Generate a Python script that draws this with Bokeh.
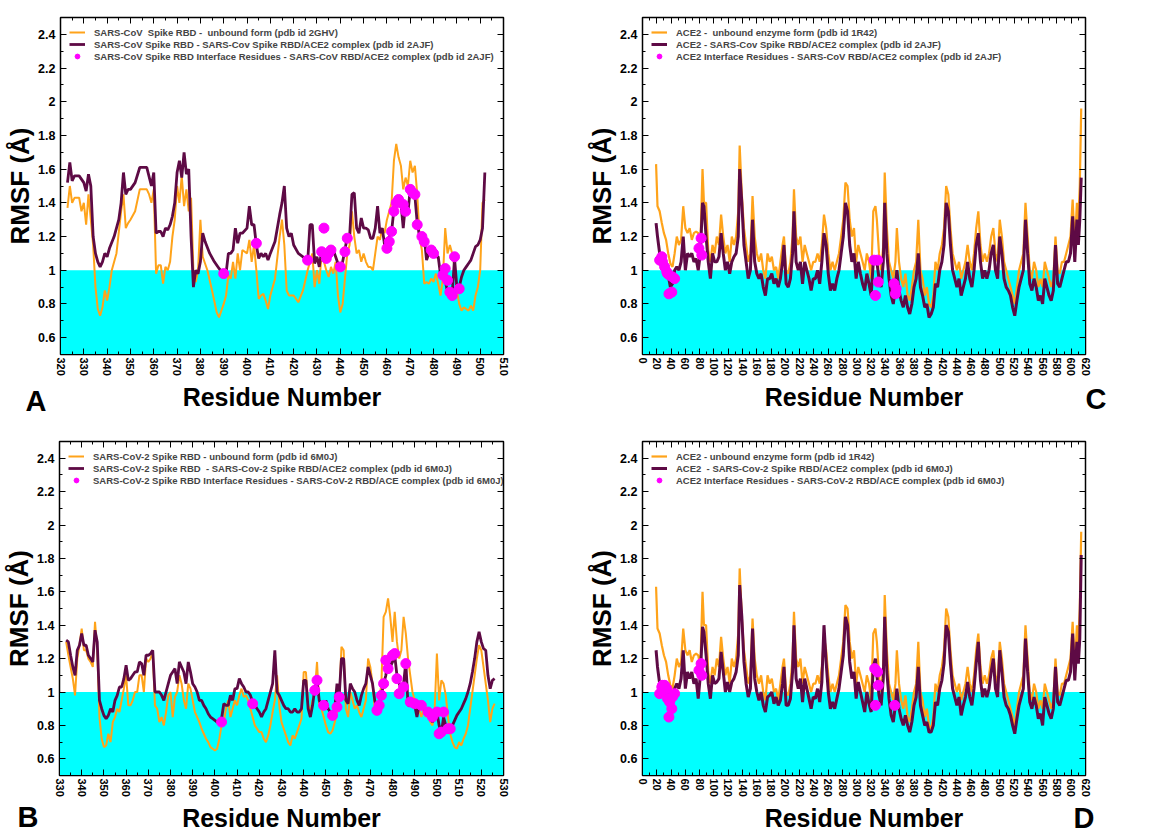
import math
from bokeh.plotting import figure
from bokeh.models import (FixedTicker, LinearAxis, Legend, LegendItem, Label,
                          CustomJSTickFormatter, Range1d)
from bokeh.layouts import column, row
from bokeh.embed import file_html
from bokeh.resources import INLINE

# ---------------- data (residue, RMSF in Angstrom) ----------------
# Panel A: SARS-CoV spike RBD
sars_rbd_unbound = [
    (323, 1.37), (324, 1.50), (325, 1.40), (326, 1.43), (328, 1.43), (329, 1.35), (330, 1.40),
    (331, 1.27), (332, 1.45), (333, 1.30), (334, 1.15), (335, 0.90), (336, 0.77), (337, 0.73),
    (338, 0.78), (339, 0.88), (340, 0.82), (341, 0.90), (342, 1.00), (344, 1.10), (346, 1.35),
    (347, 1.45), (348, 1.25), (349, 1.28), (350, 1.30), (352, 1.35), (354, 1.48), (357, 1.48),
    (358, 1.45), (359, 1.40), (360, 1.48), (361, 0.98), (362, 1.03), (363, 1.03), (364, 0.92),
    (365, 1.02), (366, 1.00), (367, 1.05), (368, 1.20), (369, 1.30), (370, 1.50), (371, 1.40),
    (372, 1.56), (373, 1.38), (374, 1.48), (375, 1.35), (376, 1.43), (377, 1.00), (378, 0.93),
    (379, 1.00), (380, 1.30), (381, 1.08), (383, 1.00), (385, 0.88), (387, 0.75), (388, 0.72),
    (389, 0.76), (390, 0.80), (391, 0.85), (392, 0.97), (393, 0.95), (394, 1.05), (395, 0.95),
    (396, 1.10), (397, 1.00), (398, 1.12), (400, 1.10), (401, 1.18), (402, 1.05), (403, 1.15),
    (404, 1.00), (405, 0.83), (406, 0.85), (407, 0.86), (408, 0.82), (409, 0.77), (410, 0.85),
    (412, 0.95), (414, 1.20), (415, 1.30), (416, 1.15), (417, 0.88), (418, 0.85), (420, 0.85),
    (422, 0.81), (424, 0.88), (426, 1.00), (427, 1.05), (428, 1.10), (429, 0.90), (430, 1.00),
    (431, 0.92), (432, 1.10), (433, 1.05), (434, 1.00), (435, 0.96), (436, 1.02), (437, 0.98),
    (438, 1.05), (439, 0.85), (440, 0.75), (441, 0.80), (442, 0.95), (443, 1.10), (444, 1.15),
    (445, 1.35), (446, 1.20), (447, 1.10), (448, 1.12), (449, 1.05), (450, 1.10), (451, 1.05),
    (452, 1.02), (453, 1.02), (454, 1.00), (455, 1.10), (456, 1.20), (457, 1.18), (458, 1.25),
    (459, 1.22), (460, 1.30), (461, 1.35), (462, 1.40), (463, 1.65), (464, 1.75), (465, 1.67),
    (466, 1.62), (467, 1.48), (468, 1.55), (469, 1.50), (470, 1.65), (471, 1.58), (472, 1.62),
    (473, 1.45), (474, 1.20), (475, 1.12), (476, 0.92), (477, 0.93), (478, 0.92), (479, 0.95),
    (480, 0.93), (481, 0.98), (482, 0.92), (483, 0.85), (484, 0.95), (485, 1.25), (486, 1.10),
    (487, 1.15), (488, 1.10), (489, 1.02), (490, 0.88), (491, 0.80), (492, 0.76), (493, 0.78),
    (494, 0.77), (495, 0.76), (496, 0.79), (497, 0.76), (498, 0.85), (499, 0.90), (500, 1.00),
    (501, 1.40), (502, 1.42),
]
sars_rbd_complex = [
    (323, 1.52), (324, 1.64), (325, 1.53), (326, 1.56), (328, 1.56), (330, 1.52), (331, 1.47),
    (332, 1.57), (333, 1.50), (334, 1.20), (335, 1.10), (336, 1.05), (337, 1.02), (338, 1.05),
    (339, 1.10), (340, 1.08), (341, 1.13), (343, 1.20), (345, 1.30), (346, 1.40), (347, 1.58),
    (348, 1.45), (349, 1.48), (350, 1.48), (352, 1.52), (354, 1.61), (357, 1.61), (359, 1.50),
    (360, 1.58), (361, 1.22), (362, 1.23), (363, 1.23), (364, 1.20), (365, 1.25), (366, 1.24),
    (367, 1.27), (368, 1.32), (369, 1.40), (370, 1.58), (371, 1.65), (372, 1.55), (373, 1.70),
    (374, 1.57), (375, 1.60), (376, 1.20), (377, 0.90), (378, 1.00), (379, 0.98), (380, 1.05),
    (381, 1.22), (382, 1.17), (384, 1.10), (386, 1.05), (388, 1.01), (390, 0.98), (391, 0.98),
    (392, 1.10), (393, 1.10), (394, 1.12), (395, 1.25), (396, 1.16), (397, 1.22), (398, 1.22),
    (400, 1.25), (401, 1.38), (402, 1.27), (403, 1.27), (404, 1.15), (405, 1.07), (406, 1.10),
    (407, 1.08), (408, 1.10), (409, 1.06), (410, 1.10), (412, 1.17), (414, 1.33), (415, 1.40),
    (416, 1.50), (417, 1.25), (418, 1.20), (419, 1.22), (420, 1.15), (422, 1.10), (424, 1.08),
    (425, 1.07), (426, 1.05), (427, 1.27), (428, 1.27), (429, 1.04), (430, 1.08), (431, 1.02),
    (432, 1.12), (433, 1.10), (434, 1.10), (435, 1.08), (436, 1.12), (437, 1.12), (438, 1.08),
    (439, 1.04), (440, 1.02), (441, 1.05), (442, 1.12), (443, 1.20), (444, 1.20), (445, 1.45),
    (446, 1.46), (447, 1.25), (448, 1.22), (449, 1.31), (450, 1.25), (451, 1.25), (452, 1.24),
    (453, 1.19), (454, 1.19), (455, 1.25), (456, 1.38), (457, 1.22), (458, 1.25), (459, 1.15),
    (460, 1.16), (461, 1.20), (462, 1.23), (463, 1.36), (464, 1.38), (465, 1.42), (466, 1.40),
    (467, 1.25), (468, 1.40), (469, 1.34), (470, 1.48), (471, 1.44), (472, 1.44), (473, 1.28),
    (474, 1.20), (475, 1.18), (476, 1.20), (477, 1.06), (478, 1.10), (479, 1.12), (480, 1.10),
    (481, 1.08), (482, 1.08), (483, 0.97), (484, 1.00), (485, 0.94), (486, 0.87), (487, 0.87),
    (488, 0.86), (489, 1.07), (490, 0.90), (491, 0.90), (492, 0.96), (493, 1.00), (494, 1.02),
    (495, 1.04), (496, 1.06), (497, 1.10), (498, 1.14), (499, 1.15), (500, 1.18), (501, 1.25),
    (502, 1.58),
]
sars_rbd_interface = [
    (390, 0.98), (404, 1.16), (426, 1.06), (432, 1.11), (433, 1.25), (434, 1.07), (435, 1.10),
    (436, 1.12), (440, 1.02), (442, 1.11), (443, 1.19), (460, 1.13), (461, 1.17), (462, 1.23),
    (463, 1.35), (464, 1.40), (465, 1.42), (467, 1.39), (468, 1.35), (470, 1.48), (471, 1.46),
    (472, 1.45), (473, 1.27), (475, 1.20), (476, 1.17), (479, 1.12), (480, 1.10), (484, 0.97),
    (485, 1.01), (486, 0.94), (487, 0.87), (488, 0.85), (489, 1.08), (491, 0.89),
]

# Panel B: SARS-CoV-2 spike RBD
cov2_rbd_unbound = [
    (333, 1.30), (334, 1.22), (335, 1.15), (336, 1.08), (337, 0.98), (338, 1.20), (339, 1.28),
    (340, 1.38), (341, 1.25), (342, 1.25), (343, 1.20), (344, 1.18), (345, 1.15), (346, 1.42),
    (347, 1.25), (348, 0.85), (349, 0.72), (350, 0.67), (351, 0.68), (352, 0.75), (353, 0.70),
    (354, 0.82), (355, 0.85), (356, 0.90), (357, 0.88), (358, 0.95), (359, 1.02), (360, 1.10),
    (361, 0.92), (362, 0.92), (363, 0.95), (364, 1.00), (365, 1.00), (366, 1.10), (367, 1.10),
    (368, 1.00), (369, 1.20), (370, 1.18), (371, 1.20), (372, 1.24), (373, 0.92), (374, 0.90),
    (375, 0.82), (376, 0.85), (377, 0.80), (378, 0.88), (379, 0.98), (380, 1.00), (381, 0.85),
    (382, 0.97), (383, 1.00), (384, 1.10), (385, 1.05), (386, 0.95), (387, 0.90), (388, 1.05),
    (389, 1.02), (390, 0.95), (391, 0.88), (392, 0.85), (393, 0.82), (394, 0.78), (395, 0.75),
    (396, 0.72), (397, 0.70), (398, 0.67), (399, 0.66), (400, 0.65), (401, 0.66), (402, 0.72),
    (403, 0.80), (404, 0.82), (405, 0.90), (406, 0.95), (407, 0.85), (408, 0.90), (409, 0.95),
    (410, 0.92), (411, 0.98), (412, 1.02), (413, 0.97), (414, 0.98), (415, 0.95), (416, 0.90),
    (417, 0.85), (418, 0.80), (419, 0.78), (420, 0.76), (421, 0.76), (422, 0.72), (423, 0.70),
    (424, 0.74), (425, 0.80), (426, 0.88), (427, 0.95), (428, 1.10), (429, 0.92), (430, 0.82),
    (431, 0.78), (432, 0.74), (433, 0.70), (434, 0.68), (435, 0.74), (436, 0.72), (437, 0.76),
    (438, 0.80), (439, 0.84), (440, 1.12), (441, 1.12), (442, 0.92), (443, 0.88), (444, 0.95),
    (445, 1.00), (446, 1.18), (447, 0.92), (448, 0.90), (449, 0.85), (450, 0.80), (451, 0.76),
    (452, 0.75), (453, 0.77), (454, 0.82), (455, 0.88), (456, 0.95), (457, 1.27), (458, 1.25),
    (459, 0.90), (460, 0.85), (461, 1.00), (462, 0.95), (463, 0.90), (464, 0.92), (465, 0.88),
    (466, 0.85), (467, 0.90), (468, 0.95), (469, 1.20), (470, 1.15), (471, 1.05), (472, 0.90),
    (473, 0.88), (474, 0.95), (475, 1.05), (476, 1.45), (477, 1.48), (478, 1.56), (479, 1.45),
    (480, 1.30), (481, 1.48), (482, 1.30), (483, 1.20), (484, 1.25), (485, 1.45), (486, 1.35),
    (487, 1.20), (488, 1.10), (489, 1.00), (490, 0.95), (491, 0.88), (492, 0.90), (493, 0.85),
    (494, 0.90), (495, 0.85), (496, 0.88), (497, 0.82), (498, 0.80), (499, 0.90), (500, 1.23),
    (501, 0.95), (502, 1.07), (503, 1.05), (504, 0.98), (505, 0.85), (506, 0.75), (507, 0.70),
    (508, 0.67), (509, 0.66), (510, 0.70), (511, 0.68), (512, 0.72), (513, 0.75), (514, 0.80),
    (515, 0.90), (516, 1.00), (517, 1.10), (518, 1.20), (519, 1.28), (520, 1.25), (521, 1.15),
    (522, 1.05), (523, 0.95), (524, 0.82), (525, 0.90), (526, 0.93),
]
cov2_rbd_complex = [
    (333, 1.31), (334, 1.30), (335, 1.22), (336, 1.15), (337, 1.10), (338, 1.25), (339, 1.28),
    (340, 1.35), (341, 1.28), (342, 1.28), (343, 1.22), (344, 1.20), (345, 1.18), (346, 1.37),
    (347, 1.30), (348, 0.95), (349, 0.90), (350, 0.86), (351, 0.84), (352, 0.86), (353, 0.90),
    (354, 0.88), (355, 0.95), (356, 0.98), (357, 1.03), (358, 1.03), (359, 1.08), (360, 1.16),
    (361, 1.07), (362, 1.08), (363, 1.10), (364, 1.12), (365, 1.12), (366, 1.18), (367, 1.17),
    (368, 1.10), (369, 1.22), (370, 1.22), (371, 1.23), (372, 1.25), (373, 1.00), (374, 1.00),
    (375, 1.00), (376, 0.98), (377, 0.95), (378, 1.00), (379, 1.05), (380, 1.10), (381, 1.12),
    (382, 1.14), (383, 1.05), (384, 1.18), (385, 1.15), (386, 1.12), (387, 1.05), (388, 1.18),
    (389, 1.12), (390, 1.05), (391, 1.03), (392, 1.00), (393, 0.95), (394, 0.95), (395, 0.92),
    (396, 0.90), (397, 0.87), (398, 0.85), (399, 0.84), (400, 0.83), (401, 0.82), (402, 0.82),
    (403, 0.84), (404, 0.93), (405, 0.92), (406, 0.92), (407, 0.98), (408, 0.95), (409, 1.02),
    (410, 1.02), (411, 1.08), (412, 1.05), (413, 1.03), (414, 1.00), (415, 1.00), (416, 0.98),
    (417, 0.94), (418, 0.92), (419, 0.90), (420, 0.88), (421, 0.85), (422, 0.88), (423, 0.90),
    (424, 0.95), (425, 1.00), (426, 1.05), (427, 1.25), (428, 1.00), (429, 0.98), (430, 0.95),
    (431, 0.92), (432, 0.90), (433, 0.90), (434, 0.88), (435, 0.88), (436, 0.90), (437, 0.88),
    (438, 0.88), (439, 0.90), (440, 1.07), (441, 1.07), (442, 0.90), (443, 0.85), (444, 0.92),
    (445, 1.02), (446, 1.07), (447, 0.95), (448, 0.92), (449, 0.90), (450, 0.95), (451, 0.90),
    (452, 0.88), (453, 0.86), (454, 0.90), (455, 1.05), (456, 0.98), (457, 1.20), (458, 1.20),
    (459, 0.95), (460, 0.93), (461, 1.05), (462, 1.02), (463, 1.00), (464, 0.95), (465, 0.92),
    (466, 0.98), (467, 1.02), (468, 1.05), (469, 1.15), (470, 1.10), (471, 1.05), (472, 0.95),
    (473, 0.90), (474, 0.93), (475, 0.98), (476, 1.05), (477, 1.10), (478, 1.20), (479, 1.15),
    (480, 1.18), (481, 1.22), (482, 1.10), (483, 1.05), (484, 1.02), (485, 1.05), (486, 1.18),
    (487, 0.92), (488, 0.92), (489, 0.94), (490, 0.92), (491, 0.85), (492, 0.92), (493, 0.92),
    (494, 0.90), (495, 0.88), (496, 0.88), (497, 0.85), (498, 0.82), (499, 0.85), (500, 0.88),
    (501, 0.80), (502, 0.75), (503, 0.85), (504, 0.80), (505, 0.78), (506, 0.77), (507, 0.80),
    (508, 0.83), (509, 0.86), (510, 0.88), (511, 0.90), (512, 0.93), (513, 0.96), (514, 1.00),
    (515, 1.05), (516, 1.12), (517, 1.20), (518, 1.30), (519, 1.36), (520, 1.30), (521, 1.26),
    (522, 1.25), (523, 1.10), (524, 1.02), (525, 1.07), (526, 1.08),
]
cov2_rbd_interface = [
    (403, 0.82), (417, 0.93), (445, 1.01), (446, 1.07), (449, 0.92), (453, 0.86), (455, 0.91),
    (456, 0.97), (473, 0.89), (474, 0.92), (475, 0.98), (476, 1.05), (477, 1.19), (478, 1.14),
    (480, 1.22), (481, 1.23), (482, 1.08), (483, 0.99), (485, 1.03), (486, 1.17), (488, 0.94),
    (490, 0.93), (493, 0.92), (496, 0.88), (498, 0.85), (500, 0.88), (501, 0.75), (502, 0.76),
    (503, 0.88), (505, 0.78), (506, 0.78),
]

# Panels C and D: ACE2
ace2_unbound = [
    (19, 1.63), (21, 1.38), (24, 1.35), (27, 1.28), (30, 1.22), (33, 1.18), (36, 1.10), (39, 1.04),
    (42, 1.02), (45, 1.10), (48, 1.20), (51, 1.15), (54, 1.18), (57, 1.38), (60, 1.25), (63, 1.22),
    (66, 1.25), (69, 1.18), (72, 1.22), (75, 1.23), (78, 1.22), (81, 1.15), (84, 1.60), (86, 1.40),
    (89, 1.40), (92, 1.12), (95, 1.05), (98, 1.15), (101, 1.10), (104, 1.20), (107, 1.15),
    (110, 1.33), (113, 1.20), (116, 1.10), (119, 1.15), (122, 1.05), (125, 1.20), (128, 1.15),
    (131, 1.20), (134, 1.35), (136, 1.74), (139, 1.45), (142, 1.25), (145, 1.15), (148, 1.05),
    (151, 1.10), (154, 1.44), (157, 1.20), (160, 1.10), (163, 1.05), (166, 1.10), (169, 1.00),
    (172, 0.95), (175, 1.10), (178, 1.05), (181, 1.08), (184, 1.00), (187, 1.02), (190, 0.95),
    (193, 1.05), (196, 1.15), (198, 1.20), (201, 1.00), (204, 0.98), (207, 1.05), (210, 1.20),
    (212, 1.48), (215, 1.20), (218, 1.15), (221, 1.20), (224, 1.05), (227, 1.15), (230, 1.10),
    (233, 1.05), (236, 1.00), (239, 1.05), (242, 1.05), (245, 1.10), (248, 1.05), (251, 1.15),
    (254, 1.33), (257, 1.25), (260, 1.10), (263, 1.00), (266, 1.05), (269, 1.00), (272, 1.05),
    (275, 1.10), (278, 1.20), (281, 1.30), (284, 1.52), (287, 1.50), (290, 1.30), (293, 1.20),
    (296, 1.25), (299, 1.05), (302, 1.15), (305, 1.10), (308, 1.05), (311, 1.00), (314, 1.10),
    (317, 1.05), (320, 0.95), (323, 1.35), (326, 1.38), (328, 1.30), (331, 1.10), (334, 1.00),
    (337, 1.15), (339, 1.58), (342, 1.25), (345, 1.05), (348, 1.00), (351, 0.95), (354, 1.05),
    (356, 1.25), (359, 1.05), (362, 0.95), (365, 0.90), (368, 0.98), (371, 0.85), (374, 0.82),
    (377, 0.90), (380, 1.00), (383, 1.05), (386, 1.30), (389, 1.00), (392, 0.95), (395, 0.85),
    (398, 0.90), (401, 0.80), (404, 0.78), (407, 0.85), (410, 1.05), (413, 1.00), (416, 1.10),
    (419, 1.15), (422, 1.25), (425, 1.50), (428, 1.45), (431, 1.25), (434, 1.10), (437, 1.05),
    (440, 1.00), (443, 1.05), (446, 0.95), (449, 1.00), (452, 1.05), (455, 1.15), (458, 1.05),
    (461, 1.00), (464, 1.10), (467, 1.25), (470, 1.35), (473, 1.15), (476, 1.05), (479, 1.10),
    (482, 1.05), (485, 1.10), (488, 1.20), (491, 1.25), (494, 1.10), (497, 1.05), (500, 1.30),
    (503, 1.20), (506, 1.05), (509, 1.00), (512, 0.95), (515, 0.90), (518, 0.85), (521, 0.80),
    (524, 0.90), (527, 1.00), (530, 1.05), (533, 1.10), (536, 1.40), (539, 1.20), (542, 1.00),
    (545, 0.95), (548, 1.05), (551, 1.00), (554, 0.90), (557, 0.95), (560, 0.90), (563, 1.05),
    (566, 1.00), (569, 0.95), (572, 0.90), (575, 0.95), (578, 1.20), (581, 1.00), (584, 0.98),
    (587, 1.05), (590, 1.05), (593, 1.10), (596, 1.15), (599, 1.20), (602, 1.42), (605, 1.15),
    (608, 1.40), (610, 1.30), (612, 1.50), (614, 1.96),
]
ace2_sars_complex = [
    (19, 1.28), (21, 1.20), (24, 1.10), (27, 1.05), (30, 1.02), (33, 1.00), (36, 0.97), (39, 0.90),
    (42, 0.92), (45, 1.00), (48, 1.02), (51, 1.00), (54, 1.05), (57, 1.20), (60, 1.00), (63, 1.10),
    (66, 1.08), (69, 1.10), (72, 1.05), (75, 1.07), (78, 1.00), (81, 1.10), (84, 1.40), (86, 1.38),
    (89, 1.20), (92, 1.05), (95, 0.95), (98, 1.10), (101, 1.05), (104, 1.05), (107, 1.08),
    (110, 1.22), (113, 1.10), (116, 1.00), (119, 1.05), (122, 0.98), (125, 1.05), (128, 1.08),
    (131, 1.10), (134, 1.20), (136, 1.60), (139, 1.40), (142, 1.15), (145, 1.05), (148, 0.95),
    (151, 1.00), (154, 1.30), (157, 1.05), (160, 0.98), (163, 0.95), (166, 0.98), (169, 0.90),
    (172, 0.85), (175, 0.95), (178, 0.95), (181, 0.98), (184, 0.92), (187, 0.95), (190, 0.90),
    (193, 0.95), (196, 1.05), (198, 1.15), (201, 0.92), (204, 0.90), (207, 0.95), (210, 1.10),
    (212, 1.35), (215, 1.05), (218, 1.00), (221, 1.05), (224, 0.92), (227, 1.05), (230, 1.00),
    (233, 0.95), (236, 0.88), (239, 0.95), (242, 0.95), (245, 1.00), (248, 0.92), (251, 1.05),
    (254, 1.22), (257, 1.15), (260, 0.98), (263, 0.88), (266, 0.92), (269, 0.88), (272, 0.95),
    (275, 1.00), (278, 1.10), (281, 1.20), (284, 1.40), (287, 1.35), (290, 1.15), (293, 1.05),
    (296, 1.10), (299, 0.95), (302, 1.05), (305, 0.98), (308, 0.92), (311, 0.88), (314, 0.98),
    (317, 0.92), (320, 0.85), (323, 1.05), (326, 1.08), (328, 1.05), (331, 0.95), (334, 0.90),
    (337, 1.05), (339, 1.40), (342, 1.10), (345, 0.95), (348, 0.85), (351, 0.80), (354, 0.90),
    (356, 1.00), (359, 0.88), (362, 0.82), (365, 0.78), (368, 0.85), (371, 0.78), (374, 0.74),
    (377, 0.80), (380, 0.90), (383, 0.95), (386, 1.10), (389, 0.90), (392, 0.85), (395, 0.78),
    (398, 0.80), (401, 0.72), (404, 0.74), (407, 0.78), (410, 0.92), (413, 0.90), (416, 1.00),
    (419, 1.05), (422, 1.15), (425, 1.40), (428, 1.35), (431, 1.15), (434, 1.00), (437, 0.95),
    (440, 0.90), (443, 0.95), (446, 0.85), (449, 0.90), (452, 0.95), (455, 1.05), (458, 0.95),
    (461, 0.90), (464, 1.00), (467, 1.15), (470, 1.22), (473, 1.05), (476, 0.95), (479, 1.00),
    (482, 0.95), (485, 1.00), (488, 1.10), (491, 1.15), (494, 1.00), (497, 0.95), (500, 1.20),
    (503, 1.10), (506, 0.95), (509, 0.90), (512, 0.88), (515, 0.85), (518, 0.78), (521, 0.73),
    (524, 0.82), (527, 0.90), (530, 0.95), (533, 1.00), (536, 1.30), (539, 1.10), (542, 0.92),
    (545, 0.88), (548, 0.95), (551, 0.90), (554, 0.82), (557, 0.85), (560, 0.80), (563, 0.95),
    (566, 0.90), (569, 0.85), (572, 0.82), (575, 0.88), (578, 1.15), (581, 0.92), (584, 0.90),
    (587, 0.95), (590, 1.00), (593, 1.05), (596, 1.05), (599, 1.10), (602, 1.32), (605, 1.05),
    (608, 1.30), (610, 1.15), (612, 1.30), (614, 1.55),
]
ace2_sars_interface = [
    (24, 1.06), (27, 1.08), (28, 1.05), (31, 1.02), (34, 0.99), (35, 0.98), (37, 0.86),
    (38, 0.97), (41, 0.87), (42, 0.96), (45, 0.95), (79, 1.13), (82, 1.19), (83, 1.09),
    (324, 1.06), (326, 0.85), (329, 1.06), (330, 0.93), (352, 0.92), (354, 0.86), (355, 0.89),
]
ace2_cov2_complex = [
    (19, 1.25), (21, 1.15), (24, 1.05), (27, 1.02), (30, 1.03), (33, 1.00), (36, 0.96), (39, 0.90),
    (42, 0.95), (45, 1.02), (48, 1.05), (51, 1.02), (54, 1.08), (57, 1.25), (60, 1.02), (63, 1.12),
    (66, 1.08), (69, 1.12), (72, 1.05), (75, 1.08), (78, 0.96), (81, 1.10), (84, 1.39), (86, 1.36),
    (89, 1.22), (92, 1.05), (95, 0.96), (98, 1.10), (101, 1.05), (104, 1.06), (107, 1.08),
    (110, 1.24), (113, 1.12), (116, 1.00), (119, 1.06), (122, 1.00), (125, 1.06), (128, 1.08),
    (131, 1.12), (134, 1.22), (136, 1.64), (139, 1.45), (142, 1.18), (145, 1.05), (148, 0.97),
    (151, 1.02), (154, 1.38), (157, 1.08), (160, 1.00), (163, 0.95), (166, 1.00), (169, 0.92),
    (172, 0.88), (175, 0.97), (178, 0.98), (181, 1.00), (184, 0.93), (187, 0.97), (190, 0.92),
    (193, 0.95), (196, 1.05), (198, 1.15), (201, 0.92), (204, 0.92), (207, 0.96), (210, 1.12),
    (212, 1.40), (215, 1.08), (218, 1.02), (221, 1.08), (224, 0.94), (227, 1.08), (230, 1.02),
    (233, 0.96), (236, 0.90), (239, 0.97), (242, 0.96), (245, 1.02), (248, 0.94), (251, 1.06),
    (254, 1.40), (257, 1.18), (260, 1.00), (263, 0.90), (266, 0.94), (269, 0.90), (272, 0.96),
    (275, 1.02), (278, 1.12), (281, 1.22), (284, 1.45), (287, 1.40), (290, 1.18), (293, 1.08),
    (296, 1.12), (299, 0.96), (302, 1.06), (305, 1.00), (308, 0.94), (311, 0.88), (314, 1.00),
    (317, 0.93), (320, 0.88), (323, 1.15), (326, 1.20), (328, 1.10), (331, 0.98), (334, 0.92),
    (337, 1.08), (339, 1.45), (342, 1.12), (345, 0.96), (348, 0.86), (351, 0.82), (354, 0.92),
    (356, 1.02), (359, 0.90), (362, 0.84), (365, 0.80), (368, 0.86), (371, 0.80), (374, 0.76),
    (377, 0.82), (380, 0.92), (383, 0.97), (386, 1.15), (389, 0.92), (392, 0.86), (395, 0.80),
    (398, 0.82), (401, 0.76), (404, 0.76), (407, 0.80), (410, 0.94), (413, 0.92), (416, 1.02),
    (419, 1.07), (422, 1.17), (425, 1.40), (428, 1.36), (431, 1.17), (434, 1.02), (437, 0.97),
    (440, 0.92), (443, 0.97), (446, 0.86), (449, 0.92), (452, 0.97), (455, 1.06), (458, 0.97),
    (461, 0.92), (464, 1.02), (467, 1.17), (470, 1.30), (473, 1.07), (476, 0.97), (479, 1.02),
    (482, 0.97), (485, 1.02), (488, 1.12), (491, 1.20), (494, 1.02), (497, 0.97), (500, 1.25),
    (503, 1.12), (506, 0.97), (509, 0.92), (512, 0.90), (515, 0.86), (518, 0.80), (521, 0.75),
    (524, 0.84), (527, 0.92), (530, 0.97), (533, 1.02), (536, 1.32), (539, 1.12), (542, 0.94),
    (545, 0.90), (548, 0.97), (551, 0.92), (554, 0.84), (557, 0.87), (560, 0.80), (563, 0.97),
    (566, 0.92), (569, 0.87), (572, 0.84), (575, 0.90), (578, 1.15), (581, 0.94), (584, 0.92),
    (587, 0.97), (590, 1.02), (593, 1.07), (596, 1.07), (599, 1.12), (602, 1.35), (605, 1.07),
    (608, 1.30), (610, 1.17), (612, 1.32), (614, 1.82),
]
ace2_cov2_interface = [
    (24, 0.99), (27, 1.03), (28, 1.04), (30, 1.01), (31, 1.04), (34, 1.02), (35, 0.96),
    (37, 0.85), (38, 0.94), (41, 0.90), (42, 0.97), (45, 0.99), (79, 1.13), (82, 1.17),
    (83, 1.10), (325, 1.14), (326, 0.92), (329, 1.12), (330, 1.04), (353, 0.92),
]

# axes / ticks
y_range = (0.5, 2.5)
y_major = [0.6, 0.8, 1.0, 1.2, 1.4, 1.6, 1.8, 2.0, 2.2, 2.4]
y_minor = [0.5, 0.7, 0.9, 1.1, 1.3, 1.5, 1.7, 1.9, 2.1, 2.3, 2.5]
threshold = 1.0
rbd_a_range = (320, 510)
rbd_b_range = (330, 530)
ace2_range = (0, 620)
rbd_a_major = list(range(320, 511, 10))
rbd_a_minor = list(range(325, 511, 10))
rbd_b_major = list(range(330, 531, 10))
rbd_b_minor = list(range(335, 531, 10))
ace2_major = list(range(0, 621, 20))
ace2_minor = list(range(10, 621, 20))

legend_a = ["SARS-CoV  Spike RBD -  unbound form (pdb id 2GHV)",
            "SARS-CoV Spike RBD - SARS-Cov Spike RBD/ACE2 complex (pdb id 2AJF)",
            "SARS-CoV Spike RBD Interface Residues - SARS-CoV RBD/ACE2 complex (pdb id 2AJF)"]
legend_b = ["SARS-CoV-2 Spike RBD - unbound form (pdb id 6M0J)",
            "SARS-CoV-2 Spike RBD  - SARS-Cov-2 Spike RBD/ACE2 complex (pdb id 6M0J)",
            "SARS-CoV-2 Spike RBD Interface Residues - SARS-CoV-2 RBD/ACE complex (pdb id 6M0J)"]
legend_c = ["ACE2 -  unbound enzyme form (pdb id 1R42)",
            "ACE2 - SARS-Cov Spike RBD/ACE2 complex (pdb id 2AJF)",
            "ACE2 Interface Residues - SARS-CoV RBD/ACE2 complex (pdb id 2AJF)"]
legend_d = ["ACE2 - unbound enzyme form (pdb id 1R42)",
            "ACE2  - SARS-Cov-2 Spike RBD/ACE2 complex (pdb id 6M0J)",
            "ACE2 Interface Residues - SARS-CoV-2 RBD/ACE complex (pdb id 6M0J)"]

# ---------------- styling ----------------
ORANGE = "#FFA31A"
PURPLE = "#5E0A45"
MAGENTA = "#FF00FF"
CYAN = "#00FFFF"
FONT = "Liberation Sans"


def unzip(pairs):
    return [p[0] for p in pairs], [p[1] for p in pairs]


def panel(width, height, borders, xr, xmaj, xmin, unbound, complex_, iface, labels,
          letter, letter_dx, letter_dy, lw_line):
    bl, br, bt, bb = borders
    p = figure(width=width, height=height, x_range=Range1d(*xr), y_range=Range1d(*y_range),
               output_backend="svg", toolbar_location=None,
               min_border_left=bl, min_border_right=br, min_border_top=bt, min_border_bottom=bb)
    p.xgrid.visible = False
    p.ygrid.visible = False
    p.outline_line_color = "black"
    p.outline_line_width = 1.5
    p.background_fill_color = "white"

    xt = FixedTicker(ticks=xmaj, minor_ticks=xmin)
    yt = FixedTicker(ticks=y_major, minor_ticks=y_minor)
    fmt = CustomJSTickFormatter(code="return String(Number(tick.toFixed(1)));")
    blank = CustomJSTickFormatter(code="return '';")

    ax = p.xaxis[0]
    ax.ticker = xt
    ax.major_label_orientation = "vertical"
    ax.major_label_text_font_size = "11px"
    ax.major_label_standoff = 3
    ax.axis_label = "Residue Number"
    ax.axis_label_standoff = 4
    ax.axis_label_text_font_size = "25px"
    ay = p.yaxis[0]
    ay.ticker = yt
    ay.formatter = fmt
    ay.major_label_text_font_size = "12.5px"
    ay.major_label_standoff = 5
    ay.axis_label = "RMSF (Å)"
    ay.axis_label_standoff = 0
    ay.axis_label_text_font_size = "26px"
    top = LinearAxis(ticker=xt, formatter=blank, major_label_text_font_size="6px",
                     major_label_standoff=0)
    right = LinearAxis(ticker=yt, formatter=blank, major_label_text_font_size="6px",
                       major_label_standoff=0)
    p.add_layout(top, "above")
    p.add_layout(right, "right")
    for a in (ax, ay, top, right):
        a.major_tick_in = 6
        a.major_tick_out = 0
        a.minor_tick_in = 3
        a.minor_tick_out = 0
        a.axis_line_color = "black"
        a.major_tick_line_color = "black"
        a.minor_tick_line_color = "black"
        a.major_label_text_font = FONT
        a.major_label_text_font_style = "bold"
        a.major_label_text_color = "black"
        a.axis_label_text_font = FONT
        a.axis_label_text_font_style = "bold"
        a.axis_label_text_color = "black"

    # threshold band
    p.quad(left=[xr[0]], right=[xr[1]], bottom=[y_range[0]], top=[threshold],
           fill_color=CYAN, line_color=None)

    ux, uy = unzip(unbound)
    cx, cy = unzip(complex_)
    ix, iy = unzip(iface)
    r1 = p.line(ux, uy, line_color=ORANGE, line_width=lw_line)
    r2 = p.line(cx, cy, line_color=PURPLE, line_width=lw_line + 0.8)
    r3 = p.scatter(ix, iy, marker="circle", size=10, fill_color=MAGENTA, line_color=MAGENTA)

    legend = Legend(items=[LegendItem(label=labels[0], renderers=[r1]),
                           LegendItem(label=labels[1], renderers=[r2]),
                           LegendItem(label=labels[2], renderers=[r3])],
                    location="top_left", margin=4, padding=5, spacing=0,
                    glyph_width=16, glyph_height=12, label_height=10, label_standoff=9,
                    label_text_font=FONT, label_text_font_style="bold",
                    label_text_font_size="9.5px", label_text_line_height=0.95,
                    background_fill_alpha=0, border_line_alpha=0)
    p.add_layout(legend)

    # panel letter, placed in the right side panel (not clipped to the frame);
    # its screen position is measured from that panel's left edge / frame bottom
    fw = width - bl - br
    lbl = Label(x=letter_dx - fw, y=letter_dy, x_units="screen", y_units="screen", text=letter,
                text_align="left", text_baseline="alphabetic", text_font=FONT,
                text_font_style="bold", text_font_size="29px", text_color="black")
    p.add_layout(lbl, "right")
    return p


pA = panel(580, 424, (60, 77, 17, 70), rbd_a_range, rbd_a_major, rbd_a_minor,
           sars_rbd_unbound, sars_rbd_complex, sars_rbd_interface, legend_a, "A", -35, -46, 2)
pC = panel(581, 424, (62, 76, 17, 70), ace2_range, ace2_major, ace2_minor,
           ace2_unbound, ace2_sars_complex, ace2_sars_interface, legend_c, "C", 443, -44, 2.2)
pB = panel(580, 410, (59, 77, 17, 55), rbd_b_range, rbd_b_major, rbd_b_minor,
           cov2_rbd_unbound, cov2_rbd_complex, cov2_rbd_interface, legend_b, "B", -42, -41, 2)
pD = panel(581, 410, (62, 76, 15, 56), ace2_range, ace2_major, ace2_minor,
           ace2_unbound, ace2_cov2_complex, ace2_cov2_interface, legend_d, "D", 431, -42, 2.2)

layout = column(row(pA, pC), row(pB, pD))
open("out.html", "w").write(file_html(layout, INLINE))
